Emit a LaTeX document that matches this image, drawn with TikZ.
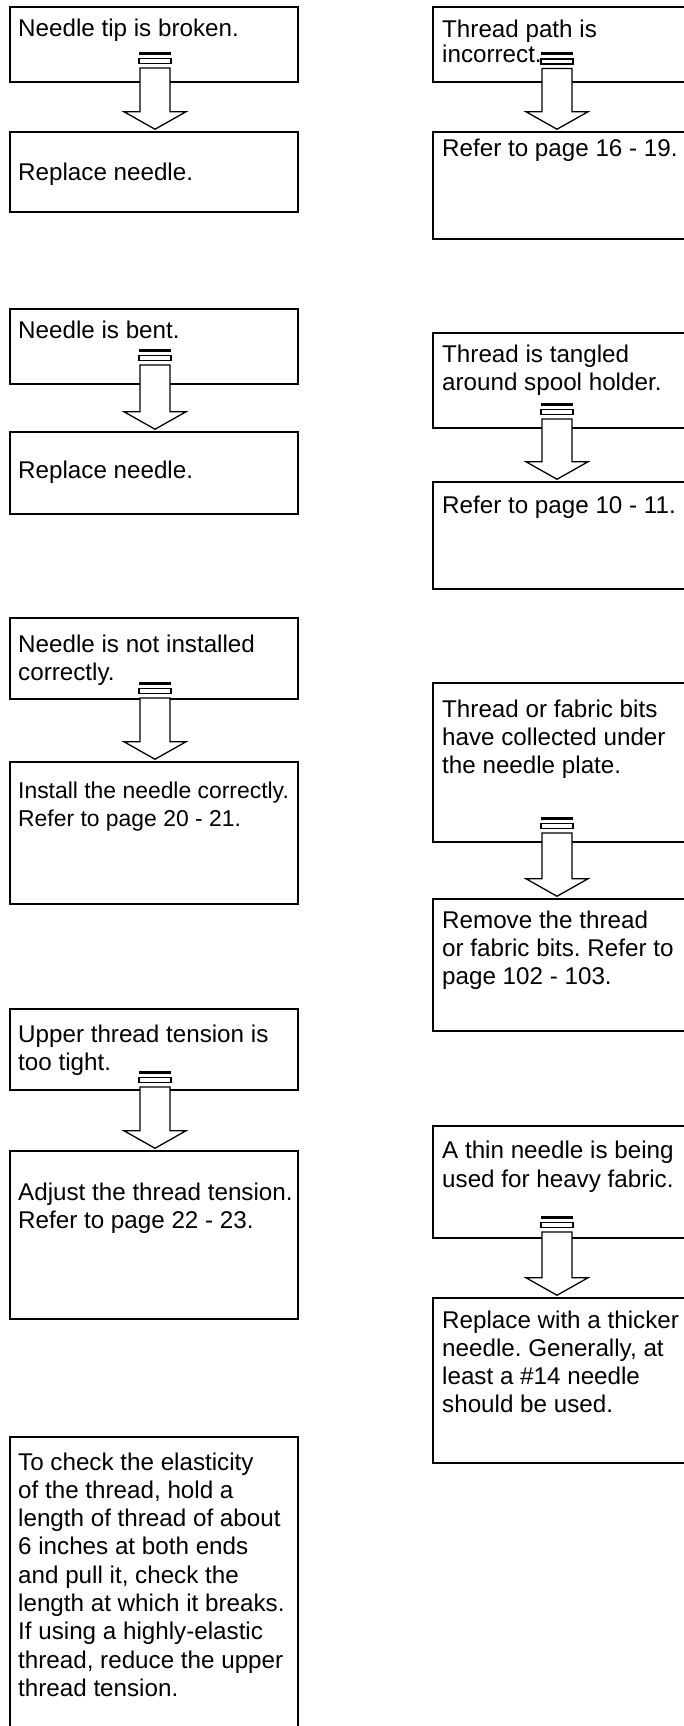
\documentclass[tikz,border=0pt]{standalone}
\usepackage{fontspec}
\setmainfont{Liberation Sans}
\usetikzlibrary{calc}
\frenchspacing
\tikzset{
  box/.style={draw, line width=2.5pt, fill=white, inner sep=0pt},
  txt/.style={anchor=base west, inner sep=0pt, font=\fontsize{24.2}{28.3}\selectfont},
  arrowbody/.style={draw, fill=white, line width=1.3pt, line join=miter},
  barthick/.style={line width=3pt},
  barthin/.style={line width=1.2pt},
}
\newcommand\lines[1]{\parbox[t]{300pt}{\noindent\frenchspacing #1}}
\newcommand\flowarrow[2]{%
  \coordinate (#1tip) at (#2.north -| #1);
  \draw[barthick] ([xshift=-16pt]#1) -- ([xshift=16pt]#1);
  \draw[barthin] ([xshift=-16pt,yshift=-5pt]#1) rectangle ([xshift=16pt,yshift=-10pt]#1);
  \path[arrowbody] ([xshift=-15pt,yshift=-14.5pt]#1) -- ([xshift=-15pt,yshift=19pt]#1tip)
    -- ([xshift=-31pt,yshift=19pt]#1tip) -- ([yshift=1.5pt]#1tip)
    -- ([xshift=31pt,yshift=19pt]#1tip) -- ([xshift=15pt,yshift=19pt]#1tip)
    -- ([xshift=15pt,yshift=-14.5pt]#1) -- cycle;
}
\begin{document}
\begin{tikzpicture}[x=1pt,y=-1pt]
\useasboundingbox (0,0) rectangle (684,1726);
\clip (0,0) rectangle (684,1726);
\fill[white] (0,0) rectangle (684,1726);

% left column boxes
\node[box, minimum width=288pt, minimum height=75pt]  (L1) at (154,44.5) {};
\node[box, minimum width=288pt, minimum height=80pt]  (L2) at (154,172) {};
\node[box, minimum width=288pt, minimum height=75pt]  (L3) at (154,346.5) {};
\node[box, minimum width=288pt, minimum height=82pt]  (L4) at (154,473) {};
\node[box, minimum width=288pt, minimum height=81pt]  (L5) at (154,658.5) {};
\node[box, minimum width=288pt, minimum height=142pt] (L6) at (154,833) {};
\node[box, minimum width=288pt, minimum height=81pt]  (L7) at (154,1049.5) {};
\node[box, minimum width=288pt, minimum height=168pt] (L8) at (154,1235) {};
\node[box, minimum width=288pt, minimum height=323pt] (L9) at (154,1598.5) {};

% right column boxes
\node[box, minimum width=267pt, minimum height=75pt]  (R1) at (566.5,44.5) {};
\node[box, minimum width=267pt, minimum height=107pt] (R2) at (566.5,185.5) {};
\node[box, minimum width=267pt, minimum height=95pt]  (R3) at (566.5,380.5) {};
\node[box, minimum width=267pt, minimum height=107pt] (R4) at (566.5,535.5) {};
\node[box, minimum width=267pt, minimum height=159pt] (R5) at (566.5,762.5) {};
\node[box, minimum width=267pt, minimum height=132pt] (R6) at (566.5,965) {};
\node[box, minimum width=267pt, minimum height=112pt] (R7) at (566.5,1182) {};
\node[box, minimum width=267pt, minimum height=165pt] (R8) at (566.5,1380.5) {};

% texts left
\node[txt] (L1t) at (18,37) {Needle tip is broken.};
\node[txt] (L2t) at (18,180) {Replace needle.};
\node[txt] (L3t) at (18,338) {Needle is bent.};
\node[txt] (L4t) at (18,478) {Replace needle.};
\node[txt] (L5t) at (18,652) {\lines{Needle is not installed\\correctly.}};
\node[txt, font=\fontsize{22.9}{28.3}\selectfont] (L6t) at (18,798) {\lines{Install the needle correctly.\\Refer to page 20 - 21.}};
\node[txt] (L7t) at (18,1042) {\lines{Upper thread tension is\\too tight.}};
\node[txt] (L8t) at (18,1200) {\lines{Adjust the thread tension.\\Refer to page 22 - 23.}};
\node[txt] (L9t) at (18,1470) {\lines{To check the elasticity\\of the thread, hold a\\length of thread of about\\6 inches at both ends\\and pull it, check the\\length at which it breaks.\\If using a highly-elastic\\thread, reduce the upper\\thread tension.}};

% texts right
\node[txt] (R1t) at (442,38) {\lines{Thread path is\\[-3.3pt]incorrect.}};
\node[txt] (R2t) at (442,157) {Refer to page 16 - 19.};
\node[txt] (R3t) at (442,362) {\lines{Thread is tangled\\around spool holder.}};
\node[txt] (R4t) at (442,513) {Refer to page 10 - 11.};
\node[txt] (R5t) at (442,717) {\lines{Thread or fabric bits\\have collected under\\the needle plate.}};
\node[txt] (R6t) at (442,928) {\lines{Remove the thread\\or fabric bits. Refer to\\page 102 - 103.}};
\node[txt] (R7t) at (442,1158) {\lines{A thin needle is being\\[1.5pt]used for heavy fabric.}};
\node[txt] (R8t) at (442,1328) {\lines{Replace with a thicker\\needle. Generally, at\\least a \#14 needle\\should be used.}};

% arrows
\coordinate (a1) at (155,53.5);
\coordinate (a2) at (155,350.5);
\coordinate (a3) at (155,683.5);
\coordinate (a4) at (155,1072.5);
\coordinate (b1) at (557,54);
\coordinate (b2) at (557,404.5);
\coordinate (b3) at (557,818.5);
\coordinate (b4) at (557,1217.5);
\flowarrow{a1}{L2}
\flowarrow{a2}{L4}
\flowarrow{a3}{L6}
\flowarrow{a4}{L8}
\flowarrow{b1}{R2}
\flowarrow{b2}{R4}
\flowarrow{b3}{R6}
\flowarrow{b4}{R8}
\end{tikzpicture}
\end{document}
